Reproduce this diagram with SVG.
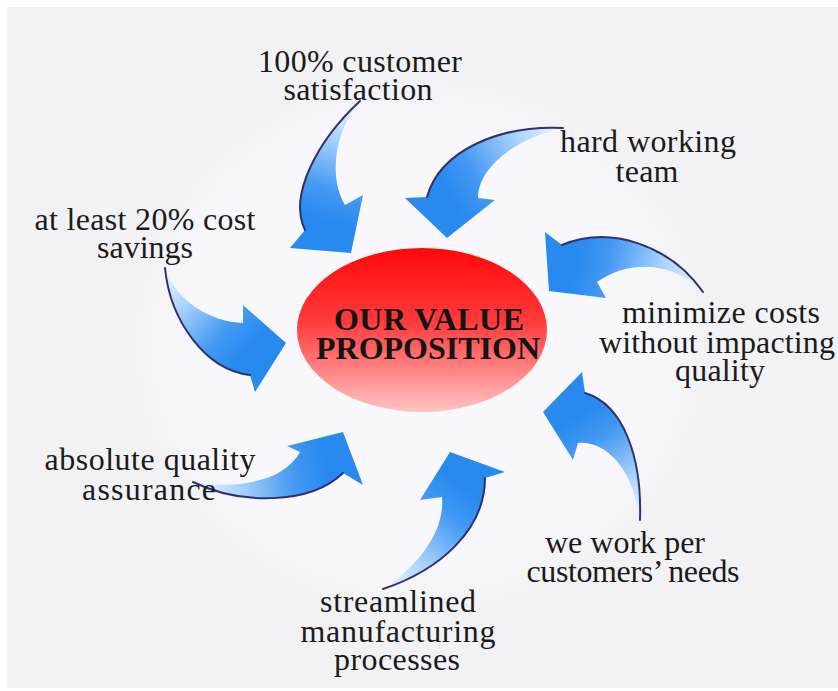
<svg xmlns="http://www.w3.org/2000/svg" width="838" height="691" viewBox="0 0 838 691">
  <defs>
    <style>
      .label{font-family:"Liberation Serif","Times New Roman",serif;font-size:32px;fill:#1b1b1b;text-anchor:middle}
      .title{font-family:"Liberation Serif","Times New Roman",serif;font-size:32px;font-weight:bold;fill:#141414;text-anchor:middle}
      .edge{fill:none;stroke:#30316e;stroke-width:2;stroke-linecap:round}
    </style>
    <!-- shared colour ramp for the curved arrows: pale tail, saturated head -->
    <linearGradient id="blueStops">
      <stop offset="0" stop-color="#f2f8ff"/>
      <stop offset="0.35" stop-color="#a6d2fb"/>
      <stop offset="0.75" stop-color="#4499f3"/>
      <stop offset="1" stop-color="#2889ef"/>
    </linearGradient>
    <linearGradient id="g1" href="#blueStops" gradientUnits="userSpaceOnUse" x1="360" y1="101" x2="326" y2="221"/>
    <linearGradient id="g2" href="#blueStops" gradientUnits="userSpaceOnUse" x1="563" y1="128" x2="450" y2="198"/>
    <linearGradient id="g3" href="#blueStops" gradientUnits="userSpaceOnUse" x1="703" y1="292" x2="575" y2="265"/>
    <linearGradient id="g4" href="#blueStops" gradientUnits="userSpaceOnUse" x1="640" y1="520" x2="577" y2="416"/>
    <linearGradient id="g5" href="#blueStops" gradientUnits="userSpaceOnUse" x1="383" y1="589" x2="462" y2="486"/>
    <linearGradient id="g6" href="#blueStops" gradientUnits="userSpaceOnUse" x1="193" y1="482" x2="325" y2="465"/>
    <linearGradient id="g7" href="#blueStops" gradientUnits="userSpaceOnUse" x1="165" y1="268" x2="249" y2="348"/>
    <linearGradient id="redFill" x1="0" y1="0" x2="0" y2="1">
      <stop offset="0" stop-color="#ff0808"/>
      <stop offset="0.45" stop-color="#ff3a3a"/>
      <stop offset="1" stop-color="#ffc4c4"/>
    </linearGradient>
    <radialGradient id="halo" cx="0.5" cy="0.5" r="0.5">
      <stop offset="0" stop-color="#f9f9fd"/>
      <stop offset="0.8" stop-color="#f8f8fc"/>
      <stop offset="1" stop-color="#f2f2f5"/>
    </radialGradient>
  </defs>

  <!-- backdrop -->
  <rect width="838" height="691" fill="#ffffff"/>
  <rect x="7" y="7" width="831" height="681" fill="#f2f2f5"/>
  <ellipse cx="420" cy="345" rx="290" ry="270" fill="url(#halo)"/>

  <!-- curved arrows feeding the core -->
  <g id="connectors">
    <g id="arrow-satisfaction">
      <path d="M360,101 C318,140 288,195 305,230 L290,248 L351,253 L363,195 L345,205 C330,180 332,135 360,101 Z" fill="url(#g1)"/>
      <path class="edge" d="M360,101 C318,140 288,195 305,230"/>
    </g>
    <g id="arrow-team">
      <path d="M563,128 C500,125 440,150 427,197 L405,198 L447,238 L495,200 L478,198 C478,170 510,140 563,128 Z" fill="url(#g2)"/>
      <path class="edge" d="M563,128 C500,125 440,150 427,197"/>
    </g>
    <g id="arrow-costs">
      <path d="M703,292 C670,245 610,225 562,245 L545,232 L549,291 L606,298 L597,282 C625,262 670,258 703,292 Z" fill="url(#g3)"/>
      <path class="edge" d="M703,292 C670,245 610,225 562,245"/>
    </g>
    <g id="arrow-needs">
      <path d="M640,520 C642,460 625,405 585,393 L582,372 L543,412 L573,460 L578,443 C605,440 635,470 638,517 Z" fill="url(#g4)"/>
      <path class="edge" d="M640,520 C642,460 625,405 585,393"/>
    </g>
    <g id="arrow-processes">
      <path d="M383,589 C440,570 485,530 485,478 L505,472 L450,452 L420,500 L442,497 C445,530 420,565 383,589 Z" fill="url(#g5)"/>
      <path class="edge" d="M383,589 C440,570 485,530 485,478"/>
    </g>
    <g id="arrow-assurance">
      <path d="M193,482 C240,505 310,505 343,473 L363,485 L343,432 L287,446 L300,452 C285,480 240,490 193,482 Z" fill="url(#g6)"/>
      <path class="edge" d="M193,482 C240,505 310,505 343,473"/>
    </g>
    <g id="arrow-savings">
      <path d="M165,268 C170,320 205,370 250,375 L255,392 L286,343 L243,305 L243,323 C210,322 175,300 165,268 Z" fill="url(#g7)"/>
      <path class="edge" d="M165,268 C170,320 205,370 250,375"/>
    </g>
  </g>

  <!-- central node -->
  <g id="node-core">
    <ellipse cx="422" cy="330" rx="125" ry="82" fill="url(#redFill)"/>
    <text class="title" x="429" y="330" textLength="190">OUR VALUE</text>
    <text class="title" x="428" y="359" textLength="224">PROPOSITION</text>
  </g>

  <!-- surrounding labels -->
  <g id="node-satisfaction">
    <text class="label" x="360" y="72" textLength="204">100% customer</text>
    <text class="label" x="358" y="100" textLength="149">satisfaction</text>
  </g>
  <g id="node-team">
    <text class="label" x="648" y="152" textLength="176">hard working</text>
    <text class="label" x="647" y="182" textLength="63">team</text>
  </g>
  <g id="node-costs">
    <text class="label" x="721" y="323" textLength="198">minimize costs</text>
    <text class="label" x="717" y="353" textLength="236">without impacting</text>
    <text class="label" x="720" y="381" textLength="90">quality</text>
  </g>
  <g id="node-needs">
    <text class="label" x="625" y="553" textLength="160">we work per</text>
    <text class="label" x="633" y="582" textLength="213">customers’ needs</text>
  </g>
  <g id="node-processes">
    <text class="label" x="398" y="612" textLength="156">streamlined</text>
    <text class="label" x="398" y="642" textLength="195">manufacturing</text>
    <text class="label" x="397" y="670" textLength="126">processes</text>
  </g>
  <g id="node-assurance">
    <text class="label" x="150" y="470" textLength="211">absolute quality</text>
    <text class="label" x="149" y="500" textLength="134">assurance</text>
  </g>
  <g id="node-savings">
    <text class="label" x="145" y="230" textLength="221">at least 20% cost</text>
    <text class="label" x="145" y="258" textLength="96">savings</text>
  </g>
</svg>
